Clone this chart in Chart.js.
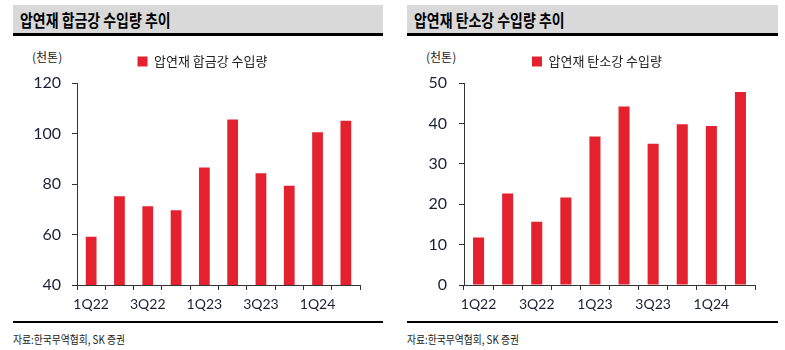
<!DOCTYPE html>
<html><head><meta charset="utf-8">
<script src="https://cdn.jsdelivr.net/npm/chart.js@4"></script>
<style>
body{margin:0;width:785px;height:350px;background:#fff;position:relative;overflow:hidden;font-family:"Noto Sans CJK KR",sans-serif;}
.tbar{position:absolute;top:5px;height:28px;background:#d9d9d9;border-bottom:3px solid #000;}
.ttl{position:absolute;top:2px;left:7px;font-size:17px;font-weight:bold;color:#000;transform:scaleX(0.82);transform-origin:left center;white-space:nowrap;}
.unit{position:absolute;top:48px;font-size:12px;color:#222;white-space:nowrap;}
.foot{position:absolute;top:321px;height:2px;background:#000;}
.src{position:absolute;top:331px;font-size:11.5px;color:#222;transform:scaleX(0.85);transform-origin:left center;white-space:nowrap;}
.cv{position:absolute;top:36px;height:284px;}
</style></head><body>
<div class="tbar" style="left:13px;width:370px"><div class="ttl">압연재 합금강 수입량 추이</div></div>
<div class="tbar" style="left:407px;width:371px"><div class="ttl">압연재 탄소강 수입량 추이</div></div>
<div class="unit" style="left:32px">(천톤)</div>
<div class="unit" style="left:426px">(천톤)</div>
<div class="cv" style="left:13px;width:370px"><canvas id="c1" width="370" height="284"></canvas></div>
<div class="cv" style="left:407px;width:371px"><canvas id="c2" width="371" height="284"></canvas></div>
<div class="foot" style="left:13px;width:370px"></div>
<div class="foot" style="left:407px;width:371px"></div>
<div class="src" style="left:13px">자료:한국무역협회, SK 증권</div>
<div class="src" style="left:407px">자료:한국무역협회, SK 증권</div>
<script>
const quarters = ['1Q22','2Q22','3Q22','4Q22','1Q23','2Q23','3Q23','4Q23','1Q24','2Q24'];
const alloyImports = [59.1, 75.2, 71.2, 69.6, 86.6, 105.6, 84.3, 79.3, 100.6, 105.1];
const carbonImports = [11.8, 22.7, 15.7, 21.7, 36.8, 44.2, 35.0, 39.8, 39.4, 47.8];
const alloyLabel = '압연재 합금강 수입량';
const carbonLabel = '압연재 탄소강 수입량';
const alloyTicks = {min:40, max:120, step:20};
const carbonTicks = {min:0, max:50, step:10};

const RED = '#e4222f';
const TICKC = '#1c2036';
const legendShift = {
  id:'legendShift',
  afterLayout(chart, args, opts){
    const l = chart.legend;
    if (l) { l.left += opts.dx; l.right += opts.dx; }
  }
};
function make(id, label, data, t, yWidth, yPad, dx){
  new Chart(document.getElementById(id), {
    type:'bar',
    data:{labels:quarters, datasets:[{label, data, backgroundColor:RED, borderWidth:0, categoryPercentage:1, barPercentage:0.38}]},
    plugins:[legendShift],
    options:{
      responsive:false, animation:false,
      layout:{padding:{top:0,right:23,bottom:0,left:0}},
      plugins:{
        legendShift:{dx},
        legend:{position:'top', labels:{boxWidth:10, boxHeight:10, padding:19, color:'#222', font:{family:'"Noto Sans CJK KR"', size:13}}},
        subtitle:{display:true, text:' ', position:'top', weight:500, font:{size:1}, padding:{top:0,bottom:4}},
        tooltip:{enabled:false}
      },
      scales:{
        x:{
          grid:{drawOnChartArea:false, drawTicks:true, tickLength:5, color:'#333'},
          border:{color:'#333', width:1},
          ticks:{autoSkip:false, maxRotation:0, padding:6, color:TICKC, font:{family:'Lato', size:14},
            callback:(v,i)=> i%2===0 ? quarters[i] : ''},
          afterFit:(s)=>{s.height=35;}
        },
        y:{
          min:t.min, max:t.max,
          grid:{drawOnChartArea:false, drawTicks:true, tickLength:5, color:'#333'},
          border:{color:'#333', width:1},
          ticks:{stepSize:t.step, padding:yPad, color:TICKC, font:{family:'Lato', size:16}},
          afterFit:(s)=>{s.width=yWidth;}
        }
      }
    }
  });
}
make('c1', alloyLabel, alloyImports, alloyTicks, 64, 11, 16);
make('c2', carbonLabel, carbonImports, carbonTicks, 57, 12, 16);
</script>
</body></html>
